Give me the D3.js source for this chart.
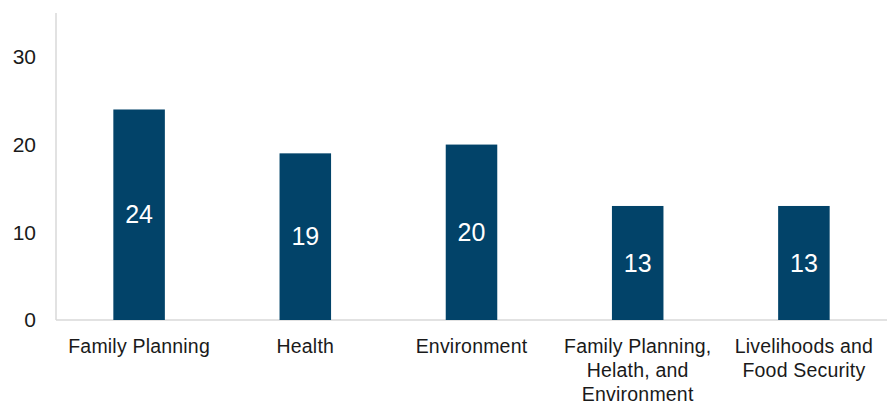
<!DOCTYPE html>
<html>
<head>
	<meta charset="utf-8">
	<script src="https://d3js.org/d3.v7.min.js"></script>
	<style>
		body { margin: 0; background: #fff; }
		svg text { font-family: 'Liberation Sans', Arial, sans-serif; }
	</style>
</head>
<body>
	<script>
		var categories = ['Family Planning', 'Health', 'Environment', 'Family Planning, Helath, and Environment', 'Livelihoods and Food Security'];
		var labelLines = [['Family Planning'], ['Health'], ['Environment'], ['Family Planning,', 'Helath, and', 'Environment'], ['Livelihoods and', 'Food Security']];
		var values = [24, 19, 20, 13, 13];
		var yTicks = [0, 10, 20, 30];

		var w = 887, h = 405;
		var plotLeft = 56, plotRight = 887, plotTop = 13, plotBottom = 320;

		var svg = d3.select('body').append('svg')
			.attr('width', w)
			.attr('height', h);

		var x = d3.scaleBand()
			.domain(categories)
			.range([plotLeft, plotRight])
			.paddingInner(0.69)
			.paddingOuter(0.345);

		var y = d3.scaleLinear()
			.domain([0, 35])
			.range([plotBottom, plotTop]);

		// axis lines
		svg.append('line')
			.attr('x1', plotLeft).attr('x2', plotLeft)
			.attr('y1', plotTop).attr('y2', plotBottom)
			.attr('stroke', '#d9d9d9').attr('stroke-width', 1.5);
		svg.append('line')
			.attr('x1', plotLeft).attr('x2', plotRight)
			.attr('y1', plotBottom).attr('y2', plotBottom)
			.attr('stroke', '#d9d9d9').attr('stroke-width', 1.5);

		// y tick labels
		svg.selectAll('.ytick')
			.data(yTicks)
			.enter().append('text')
			.attr('class', 'ytick')
			.attr('x', 36)
			.attr('y', function (d) { return y(d); })
			.attr('dy', '0.35em')
			.attr('text-anchor', 'end')
			.attr('font-size', 21)
			.attr('fill', '#1a1a1a')
			.text(function (d) { return d; });

		// bars
		svg.selectAll('rect')
			.data(values)
			.enter().append('rect')
			.attr('x', function (d, i) { return x(categories[i]); })
			.attr('width', x.bandwidth())
			.attr('y', function (d) { return y(d); })
			.attr('height', function (d) { return y(0) - y(d); })
			.attr('fill', '#024369');

		// value labels
		svg.selectAll('.val')
			.data(values)
			.enter().append('text')
			.attr('class', 'val')
			.attr('x', function (d, i) { return x(categories[i]) + x.bandwidth() / 2; })
			.attr('y', function (d) { return (y(d) + y(0)) / 2; })
			.attr('dy', '0.35em')
			.attr('text-anchor', 'middle')
			.attr('font-size', 25)
			.attr('fill', '#fff')
			.text(function (d) { return d; });

		// category labels
		var cat = svg.selectAll('.cat')
			.data(labelLines)
			.enter().append('text')
			.attr('class', 'cat')
			.attr('text-anchor', 'middle')
			.attr('font-size', 19.5)
			.attr('letter-spacing', 0.2)
			.attr('fill', '#1a1a1a');
		cat.selectAll('tspan')
			.data(function (d, i) { return d.map(function (t) { return { t: t, i: i }; }); })
			.enter().append('tspan')
			.attr('x', function (d) { return x(categories[d.i]) + x.bandwidth() / 2; })
			.attr('y', function (d, j) { return 353 + j * 24; })
			.text(function (d) { return d.t; });
	</script>
</body>
</html>
